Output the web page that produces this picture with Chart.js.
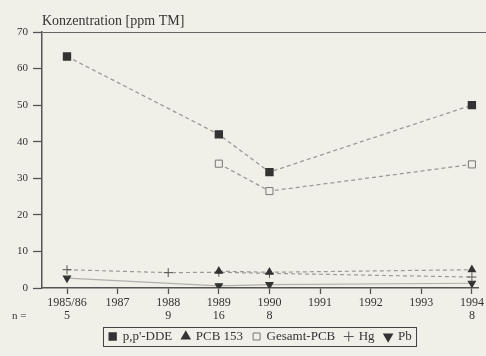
<!DOCTYPE html>
<html>
<head>
<meta charset="utf-8">
<script src="https://cdn.jsdelivr.net/npm/chart.js@4.4.1/dist/chart.umd.min.js"></script>
<style>
  html, body { margin: 0; padding: 0; background: #f1f0e8; }
  #wrap { width: 486px; height: 356px; }
</style>
</head>
<body>
<div id="wrap"><canvas id="chart"></canvas></div>
<script>
// x positions are indices into the year list
const years = ["1985/86", "1987", "1988", "1989", "1990", "1991", "1992", "1993", "1994"];
const sampleCounts = ["5", "", "9", "16", "8", "", "", "", "8"];

const ddeX = [0, 3, 4, 8];
const ddeY = [63.3, 42, 31.7, 50];

const pcb153X = [3, 4, 8];
const pcb153Y = [4.6, 4.3, 5.0];

const gesamtX = [3, 4, 8];
const gesamtY = [34, 26.5, 33.8];

const hgX = [0, 2, 3, 4, 8];
const hgY = [5.0, 4.2, 4.3, 4.0, 3.0];

const pbX = [0, 3, 4, 8];
const pbY = [2.7, 0.6, 0.9, 1.3];

const toPoints = (xs, ys) => xs.map((x, i) => ({ x, y: ys[i] }));

const serif = "'Liberation Serif', 'Times New Roman', serif";
const ink = "#333";

const bgPlugin = {
  id: "bg",
  beforeDraw(chart) {
    const { ctx } = chart;
    ctx.save();
    ctx.fillStyle = "#f1f0e8";
    ctx.fillRect(0, 0, chart.width, chart.height);
    ctx.restore();
  },
  afterDraw(chart) {
    const { ctx, chartArea } = chart;
    ctx.save();
    // frame line at 70 runs on to the page edge
    ctx.strokeStyle = "#666";
    ctx.lineWidth = 1;
    ctx.beginPath();
    ctx.moveTo(chartArea.right, chartArea.top + 0.5);
    ctx.lineTo(chart.width, chartArea.top + 0.5);
    ctx.stroke();

    ctx.fillStyle = ink;
    ctx.font = "14px " + serif;
    ctx.textBaseline = "alphabetic";
    ctx.fillText("Konzentration [ppm TM]", chartArea.left, chartArea.top - 7);

    // "n =" row label next to the sample counts
    const xs = chart.scales.x;
    ctx.font = "11px " + serif;
    ctx.textBaseline = "middle";
    ctx.fillText("n =", 12, xs.top + 28);

    // box around legend items
    const boxes = chart.legend.legendHitBoxes;
    if (boxes && boxes.length) {
      const l = Math.min(...boxes.map(b => b.left)) - 6;
      const r = Math.max(...boxes.map(b => b.left + b.width)) + 4;
      const t = Math.min(...boxes.map(b => b.top)) - 3;
      const btm = Math.max(...boxes.map(b => b.top + b.height)) + 3;
      ctx.strokeStyle = "#444";
      ctx.lineWidth = 1;
      ctx.strokeRect(Math.round(l) + 0.5, Math.round(t) + 0.5, Math.round(r - l), Math.round(btm - t));
    }
    ctx.restore();
  }
};

const dashed = [4, 3];

new Chart(document.getElementById("chart"), {
  type: "line",
  data: {
    datasets: [
      {
        label: "p,p'-DDE",
        data: toPoints(ddeX, ddeY),
        borderColor: "#9a9a96",
        borderWidth: 1.3,
        borderDash: dashed,
        pointStyle: "rect",
        pointRadius: 5,
        pointBackgroundColor: "#333",
        pointBorderColor: "#333",
      },
      {
        label: "PCB 153",
        data: toPoints(pcb153X, pcb153Y),
        borderColor: "#9a9a96",
        borderWidth: 1.2,
        borderDash: dashed,
        pointStyle: "triangle",
        pointRadius: 4,
        pointBackgroundColor: "#333",
        pointBorderColor: "#333",
      },
      {
        label: "Gesamt-PCB",
        data: toPoints(gesamtX, gesamtY),
        borderColor: "#9a9a96",
        borderWidth: 1.3,
        borderDash: dashed,
        pointStyle: "rect",
        pointRadius: 5,
        pointBackgroundColor: "#f1f0e8",
        pointBorderColor: "#777",
        pointBorderWidth: 1,
      },
      {
        label: "Hg",
        data: toPoints(hgX, hgY),
        borderColor: "#9a9a96",
        borderWidth: 1.2,
        borderDash: dashed,
        pointStyle: "cross",
        pointRadius: 4.5,
        pointBorderColor: "#555",
        pointBorderWidth: 1,
      },
      {
        label: "Pb",
        data: toPoints(pbX, pbY),
        borderColor: "#b0b0ac",
        borderWidth: 1.2,
        pointStyle: "triangle",
        pointRotation: 180,
        pointRadius: 4,
        pointBackgroundColor: "#333",
        pointBorderColor: "#333",
      },
    ],
  },
  options: {
    responsive: true,
    maintainAspectRatio: false,
    animation: false,
    layout: { padding: { top: 32, left: 0, right: 0, bottom: 3 } },
    plugins: {
      tooltip: { enabled: false },
      legend: {
        position: "bottom",
        fullSize: false,
        labels: {
          usePointStyle: true,
          boxWidth: 7,
          boxHeight: 7,
          padding: 10,
          color: ink,
          font: { family: serif, size: 13 },
        },
      },
    },
    scales: {
      x: {
        type: "linear",
        min: -0.494,
        max: 8.14,
        afterFit: (scale) => {
          scale.height = 32;
        },
        afterBuildTicks: (scale) => {
          scale.ticks = years.map((_, i) => ({ value: i }));
        },
        ticks: {
          autoSkip: false,
          maxRotation: 0,
          padding: 2,
          color: ink,
          font: { family: serif, size: 12, lineHeight: 1.1 },
          callback: (v) => [years[v], sampleCounts[v]],
        },
        grid: { drawOnChartArea: false, tickLength: 6, tickColor: "#555", tickWidth: 1.3 },
        border: { color: "#555", width: 1.5 },
      },
      y: {
        min: 0,
        max: 70,
        afterFit: (scale) => { scale.width = 42; },
        ticks: {
          stepSize: 10,
          padding: 5,
          color: ink,
          font: { family: serif, size: 11 },
        },
        grid: {
          color: (c) => (c.tick && c.tick.value === 70 ? "#666" : "transparent"),
          tickColor: "#555",
          tickLength: 9,
          tickWidth: 1.3,
        },
        border: { color: "#555", width: 1.5 },
      },
    },
  },
  plugins: [bgPlugin],
});
</script>
</body>
</html>
